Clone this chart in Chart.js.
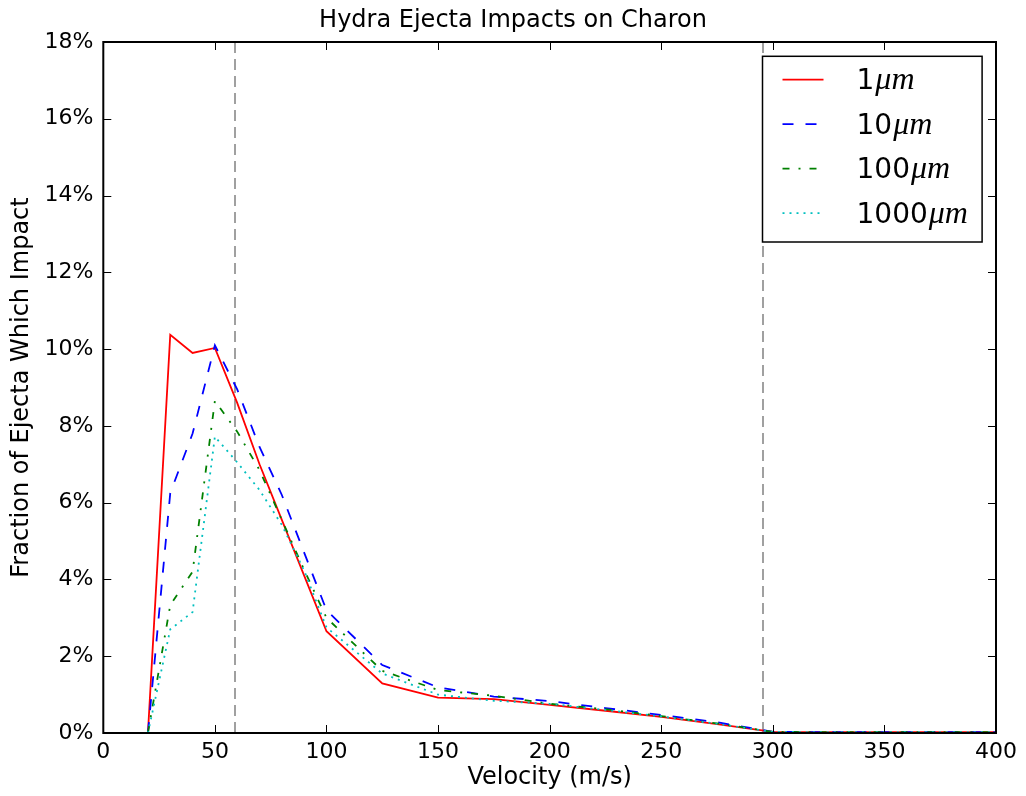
<!DOCTYPE html>
<html>
<head>
<meta charset="utf-8">
<title>Hydra Ejecta Impacts on Charon</title>
<script src="https://cdn.jsdelivr.net/npm/chart.js@4.4.0/dist/chart.umd.min.js"></script>
<style>
  body { margin: 0; background: #fff; }
  #wrap { width: 1026px; height: 796px; }
</style>
</head>
<body>
<div id="wrap"><canvas id="chart" width="1026" height="796"></canvas></div>
<script>
// Ejection velocity samples (m/s)
const velocities = [20, 30, 40, 50, 60, 70, 80, 90, 100, 125, 150, 175, 200, 225, 250, 275, 300, 325, 350, 375, 400];

// Fraction of ejecta which impact Charon (%), one array per grain size
const impacts1um    = [0, 10.37, 9.9, 10.03, 8.6, 7.0, 5.55, 4.1, 2.65, 1.29, 0.92, 0.88, 0.73, 0.58, 0.42, 0.23, 0.03, 0.02, 0.02, 0.02, 0.02];
const impacts10um   = [0, 6.25, 7.8, 10.1, 8.95, 7.45, 6.2, 4.7, 3.2, 1.77, 1.19, 0.95, 0.83, 0.65, 0.47, 0.28, 0.03, 0.02, 0.02, 0.02, 0.02];
const impacts100um  = [0, 3.33, 4.2, 8.65, 7.85, 6.85, 5.55, 4.25, 3.0, 1.62, 1.12, 0.97, 0.76, 0.62, 0.44, 0.25, 0.03, 0.02, 0.02, 0.02, 0.02];
const impacts1000um = [0, 2.7, 3.15, 7.72, 7.05, 6.33, 5.42, 4.23, 2.75, 1.55, 1.0, 0.84, 0.76, 0.6, 0.43, 0.24, 0.03, 0.02, 0.02, 0.02, 0.02];

const sizeLabels = ['1', '10', '100', '1000'];

// Vertical reference lines (m/s)
const refLines = [59, 295.6];

// Axis ticks
const xTicks = [0, 50, 100, 150, 200, 250, 300, 350, 400];
const yTicks = [0, 2, 4, 6, 8, 10, 12, 14, 16, 18];

const toPoints = ys => velocities.map((v, i) => ({ x: v, y: ys[i] }));

const seriesStyles = [
    { color: '#ff0000', dash: [] },
    { color: '#0000ff', dash: [11, 12] },
    { color: '#008000', dash: [7, 9, 2, 9] },
    { color: '#00bfbf', dash: [2, 5] }
];
const seriesValues = [impacts1um, impacts10um, impacts100um, impacts1000um];

const datasets = [];

refLines.forEach(v => {
    datasets.push({
        label: 'ref' + v,
        data: [{ x: v, y: 0 }, { x: v, y: 18 }],
        borderColor: '#a0a0a0',
        borderWidth: 2,
        borderDash: [11, 6],
        pointRadius: 0,
        order: 10
    });
});

seriesValues.forEach((vals, i) => {
    datasets.push({
        label: sizeLabels[i],
        data: toPoints(vals),
        borderColor: seriesStyles[i].color,
        borderWidth: 1.8,
        borderDash: seriesStyles[i].dash,
        pointRadius: 0,
        tension: 0,
        order: 4 - i,
        isSeries: true
    });
});

// Frame, inward ticks and the boxed legend (matplotlib look)
const framePlugin = {
    id: 'frame',
    afterDatasetsDraw(chart) {
        const { ctx, chartArea: a, scales: { x, y } } = chart;
        ctx.save();
        ctx.strokeStyle = '#000';
        ctx.lineWidth = 1;
        ctx.setLineDash([]);
        ctx.beginPath();
        x.ticks.forEach(t => {
            const px = Math.round(x.getPixelForValue(t.value)) + 0.5;
            ctx.moveTo(px, a.bottom); ctx.lineTo(px, a.bottom - 8);
            ctx.moveTo(px, a.top); ctx.lineTo(px, a.top + 8);
        });
        y.ticks.forEach(t => {
            const py = Math.round(y.getPixelForValue(t.value)) + 0.5;
            ctx.moveTo(a.left, py); ctx.lineTo(a.left + 8, py);
            ctx.moveTo(a.right, py); ctx.lineTo(a.right - 8, py);
        });
        ctx.stroke();
        ctx.lineWidth = 2;
        ctx.strokeRect(a.left, a.top, a.width, a.height);

        // legend
        const boxL = a.right - 233.5, boxT = a.top + 14.3;
        const boxW = 219.6, boxH = 185.7;
        ctx.fillStyle = '#fff';
        ctx.fillRect(boxL, boxT, boxW, boxH);
        ctx.lineWidth = 1.5;
        ctx.strokeRect(boxL, boxT, boxW, boxH);

        const series = chart.data.datasets.filter(d => d.isSeries);
        series.forEach((d, i) => {
            const rowY = boxT + 23.3 + i * 44.5;
            ctx.strokeStyle = d.borderColor;
            ctx.lineWidth = d.borderWidth;
            ctx.setLineDash(d.borderDash);
            ctx.beginPath();
            ctx.moveTo(boxL + 20, rowY);
            ctx.lineTo(boxL + 61, rowY);
            ctx.stroke();
            ctx.setLineDash([]);

            ctx.fillStyle = '#000';
            ctx.textBaseline = 'alphabetic';
            ctx.textAlign = 'left';
            ctx.font = '28px "DejaVu Sans"';
            const tx = boxL + 94;
            ctx.fillText(d.label, tx, rowY + 9.5);
            const w = ctx.measureText(d.label).width;
            ctx.font = 'italic 32px "Liberation Serif"';
            ctx.fillText('\u03bcm', tx + w + 1, rowY + 9.5);
        });
        ctx.restore();
    }
};

Chart.defaults.font.family = '"DejaVu Sans", sans-serif';
Chart.defaults.color = '#000';

new Chart(document.getElementById('chart'), {
    type: 'line',
    data: { datasets: datasets },
    plugins: [framePlugin],
    options: {
        responsive: false,
        animation: false,
        events: [],
        layout: { padding: 0 },
        plugins: {
            legend: { display: false },
            tooltip: { enabled: false },
            title: {
                display: true,
                text: 'Hydra Ejecta Impacts on Charon',
                font: { size: 24, weight: 'normal' },
                padding: { top: 6.6, bottom: 6.6 },
                color: '#000'
            }
        },
        scales: {
            x: {
                type: 'linear',
                min: 0,
                max: 400,
                afterBuildTicks: s => { s.ticks = xTicks.map(v => ({ value: v })); },
                afterFit: s => { s.height = 63; },
                grid: { display: false, drawTicks: false },
                border: { display: false },
                ticks: { font: { size: 22 }, padding: 6, maxRotation: 0, color: '#000' },
                title: {
                    display: true,
                    text: 'Velocity (m/s)',
                    font: { size: 24 },
                    padding: { top: 0, bottom: 3.6 },
                    color: '#000'
                }
            },
            y: {
                type: 'linear',
                min: 0,
                max: 18,
                afterBuildTicks: s => { s.ticks = yTicks.map(v => ({ value: v })); },
                afterFit: s => { s.width = 103.3; },
                grid: { display: false, drawTicks: false },
                border: { display: false },
                ticks: { font: { size: 22 }, padding: 10, color: '#000', callback: v => v + '%' },
                title: {
                    display: true,
                    text: 'Fraction of Ejecta Which Impact',
                    font: { size: 24 },
                    padding: { top: 7.6, bottom: 0 },
                    color: '#000'
                }
            },
            // empty right-hand margin, so the title stays centred on the figure
            margin: {
                type: 'linear',
                position: 'right',
                display: true,
                afterFit: s => { s.width = 30; },
                grid: { display: false, drawTicks: false },
                border: { display: false },
                ticks: { display: false }
            }
        }
    }
});
</script>
</body>
</html>
